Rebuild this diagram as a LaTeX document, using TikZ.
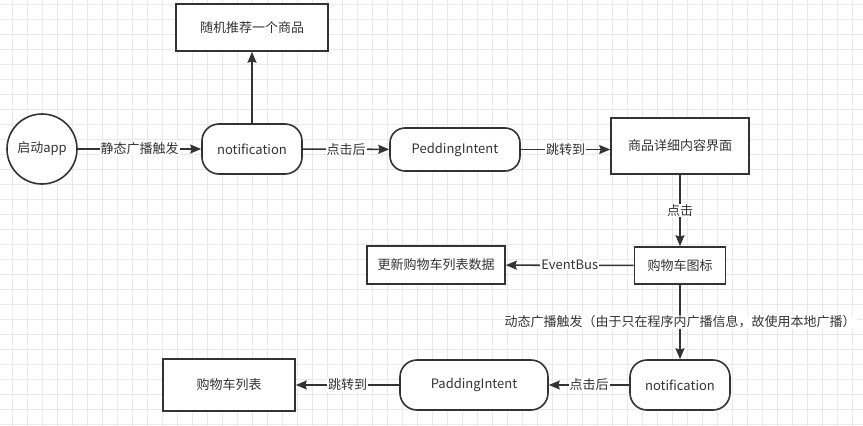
\documentclass[tikz,border=0pt]{standalone}
\usepackage{fontspec}
\setmainfont{Noto Sans CJK SC}
\usetikzlibrary{arrows.meta}
\definecolor{ink}{HTML}{333333}
\definecolor{gridc}{HTML}{E9E9E9}
\definecolor{gridd}{HTML}{DCDCDC}
\tikzset{
  base/.style={draw=ink, line width=1.6pt, text=ink, font=\fontsize{13}{15}\selectfont, inner sep=0pt, fill=white},
  box/.style={base, rectangle},
  pill/.style={base, rectangle, rounded corners=17pt},
  circ/.style={base, circle, minimum size=70pt},
  conn/.style={draw=ink, line width=1.6pt, -{Stealth[length=11pt,width=9pt,inset=1.5pt]}},
  lbl/.style={fill=white, text=ink, font=\fontsize{13}{15}\selectfont, inner sep=1pt}
}
\begin{document}
\begin{tikzpicture}[x=1pt,y=-1pt]
\useasboundingbox (0,0) rectangle (863,426);
\fill[white] (0,0) rectangle (863,426);
% grid
\foreach \k in {0,...,57} {
  \pgfmathsetmacro\xx{12.7+15*\k}
  \draw[gridc, line width=0.8pt] (\xx,0) -- (\xx,426);
}
\foreach \k in {0,...,28} {
  \pgfmathsetmacro\yy{4+15*\k}
  \draw[gridc, line width=0.8pt] (0,\yy) -- (863,\yy);
}
% nodes
\node[circ] (app) at (42,149) {启动app};
\node[pill, minimum width=100pt, minimum height=50pt] (notif1) at (252,149) {notification};
\node[box, minimum width=152pt, minimum height=47pt] (rand) at (252,27.5) {随机推荐一个商品};
\node[pill, minimum width=130pt, minimum height=43pt, rounded corners=15pt] (pedding) at (455,149.5) {PeddingIntent};
\node[box, minimum width=138pt, minimum height=56pt] (detail) at (680,146) {商品详细内容界面};
\node[box, minimum width=91pt, minimum height=37pt] (cart) at (680,265.5) {购物车图标};
\node[box, minimum width=138pt, minimum height=38pt] (update) at (436,265) {更新购物车列表数据};
\node[pill, minimum width=100pt, minimum height=50pt] (notif2) at (680,385) {notification};
\node[pill, minimum width=148pt, minimum height=50pt] (padding) at (474,385) {PaddingIntent};
\node[box, minimum width=132pt, minimum height=52pt] (cartlist) at (229,385) {购物车列表};
% connectors
\draw[conn] (app) -- node[lbl] {静态广播触发} (notif1);
\draw[conn] (notif1) -- (rand);
\draw[conn] (notif1) -- node[lbl] {点击后} (pedding);
\draw[conn] (pedding.east) -- node[lbl] {跳转到} (detail.west |- pedding.east);
\draw[conn] (detail) -- node[lbl] {点击} (cart);
\draw[conn] (cart) -- node[lbl] {EventBus} (update);
\draw[conn] (cart) -- node[lbl] {动态广播触发（由于只在程序内广播信息，故使用本地广播）} (notif2);
\draw[conn] (notif2) -- node[lbl] {点击后} (padding);
\draw[conn] (padding) -- node[lbl] {跳转到} (cartlist);
\end{tikzpicture}
\end{document}
